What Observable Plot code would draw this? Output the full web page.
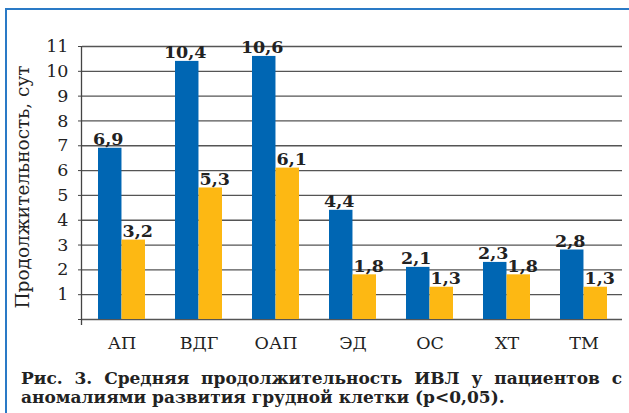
<!DOCTYPE html>
<html>
<head>
<meta charset="utf-8">
<script src="https://cdn.jsdelivr.net/npm/d3@7"></script>
<script src="https://cdn.jsdelivr.net/npm/@observablehq/plot@0.6"></script>
<style>
  html, body { margin: 0; padding: 0; background: #fff; }
  #wrap { position: relative; width: 629px; height: 413px; overflow: hidden; }
  #border { position: absolute; left: 5px; top: 7.5px; width: 640px; height: 420px;
            border-top: 2.5px solid #2a7ac6; border-left: 2.5px solid #2a7ac6; box-sizing: border-box; }
  #chart { position: absolute; left: 0; top: 0; }
  #ytitle { position: absolute; left: 22px; top: 187px; transform: translate(-50%, -50%) rotate(-90deg);
            white-space: nowrap; font-family: "DejaVu Serif", serif; font-size: 18.5px; color: #222; }
  #caption { position: absolute; left: 21px; top: 369px; width: 601px;
             font-family: "DejaVu Serif", serif; font-weight: bold; font-size: 17px; line-height: 18.5px; color: #222; }
  #caption .l1 { text-align: justify; text-align-last: justify; }
</style>
</head>
<body>
<div id="wrap">
  <div id="border"></div>
  <div id="chart"></div>
  <div id="ytitle">Продолжительность, сут</div>
  <div id="caption"><div class="l1">Рис. 3. Средняя продолжительность ИВЛ у пациентов с</div><div>аномалиями развития грудной клетки (p&lt;0,05).</div></div>
</div>
<script>
const categories = ["АП", "ВДГ", "ОАП", "ЭД", "ОС", "ХТ", "ТМ"];
const seriesBlue = [6.9, 10.4, 10.6, 4.4, 2.1, 2.3, 2.8];
const seriesYellow = [3.2, 5.3, 6.1, 1.8, 1.3, 1.8, 1.3];
const yTicks = [0, 1, 2, 3, 4, 5, 6, 7, 8, 9, 10, 11];

const rows = categories.map((c, i) => ({cat: c, blue: seriesBlue[i], yellow: seriesYellow[i]}));
const fmt = v => v.toFixed(1).replace(".", ",");

const W = 629, H = 360, ML = 82, MR = 7, MT = 46, MB = 41;
const PAD = 0.39;
const half = (W - ML - MR) / categories.length * (1 - PAD) / 2;
const BLUE = "#0066b3", YELLOW = "#fdb813";

const yAxisLine = (index, scales, values, dims) => {
  const ns = "http://www.w3.org/2000/svg";
  const l = document.createElementNS(ns, "line");
  l.setAttribute("x1", dims.marginLeft - 0.5);
  l.setAttribute("x2", dims.marginLeft - 0.5);
  l.setAttribute("y1", dims.marginTop);
  l.setAttribute("y2", dims.height - dims.marginBottom + 6);
  l.setAttribute("stroke", "#444");
  l.setAttribute("stroke-width", 1.3);
  return l;
};

const chart = Plot.plot({
  width: W, height: H,
  marginLeft: ML, marginRight: MR, marginTop: MT, marginBottom: MB,
  style: {fontFamily: "DejaVu Serif, serif", fontSize: "17px", color: "#222", background: "transparent", overflow: "visible"},
  x: {domain: categories, paddingInner: PAD, paddingOuter: PAD / 2, label: null},
  y: {domain: [0, 11], label: null},
  marks: [
    Plot.ruleY(yTicks, {stroke: "#555", strokeWidth: 1.3}),
    Plot.barY(rows, {x: "cat", y: "blue", fill: BLUE, insetRight: half}),
    Plot.barY(rows, {x: "cat", y: "yellow", fill: YELLOW, insetLeft: half}),
    Plot.text(rows, {x: "cat", y: "blue", text: d => fmt(d.blue), dx: -half / 2 - 2, dy: -3, lineAnchor: "bottom",
                     fontWeight: "bold", fontSize: 17.5, fill: "#222"}),
    Plot.text(rows, {x: "cat", y: "yellow", text: d => fmt(d.yellow), dx: half / 2 + 4, dy: -3, lineAnchor: "bottom",
                     fontWeight: "bold", fontSize: 17.5, fill: "#222"}),
    Plot.axisY({ticks: yTicks, tickFormat: d => d === 0 ? "" : String(d), tickSize: 4, tickPadding: 10,
                stroke: "#444", label: null, fontSize: 17.5, fill: "#222"}),
    Plot.axisX({tickSize: 0, tickPadding: 17, label: null, fontSize: 17.5, fill: "#222"}),
    yAxisLine
  ]
});
document.getElementById("chart").appendChild(chart);
</script>
</body>
</html>
